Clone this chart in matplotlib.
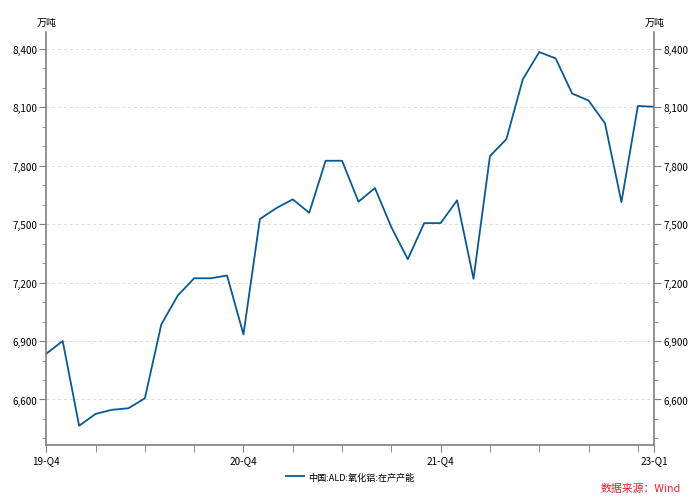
import matplotlib
matplotlib.use('Agg')
import matplotlib.pyplot as plt
from matplotlib.ticker import FixedLocator, MultipleLocator, FuncFormatter

plt.rcParams['font.family'] = ['Noto Sans CJK SC', 'DejaVu Sans']

# 中国:ALD:氧化铝:在产产能 (万吨), 月度, 2019-10 起
values = [6835, 6900, 6465, 6526, 6547, 6555, 6606, 6985, 7133, 7222,
          7222, 7236, 6934, 7526, 7582, 7627, 7558, 7825, 7825, 7615,
          7685, 7484, 7320, 7505, 7505, 7622, 7219, 7849, 7936, 8243,
          8383, 8350, 8170, 8134, 8017, 7613, 8106, 8102]
tick_pos = [0, 12, 24, 37]
tick_labels = ['19-Q4', '20-Q4', '21-Q4', '23-Q1']
minor_pos = [3, 6, 9, 15, 18, 21, 27, 30, 33, 36]
series_name = '中国:ALD:氧化铝:在产产能'

x = list(range(len(values)))

fig = plt.figure(figsize=(7, 5.02), dpi=100)
ax = fig.add_axes([0.0661, 0.111, 0.8686, 0.823])
line, = ax.plot(x, values, color='#0b5a92', lw=1.3, label=series_name)

ax.set_xlim(0, len(values) - 1)
ax.set_ylim(6365, 8485)

axis_col = '#7f7f7f'
ax.spines['top'].set_visible(False)
for s in ['left', 'right', 'bottom']:
    ax.spines[s].set_color(axis_col)
    ax.spines[s].set_linewidth(1.2)

ax.yaxis.set_major_locator(MultipleLocator(300))
ax.yaxis.set_minor_locator(MultipleLocator(100))
ax.yaxis.set_major_formatter(FuncFormatter(lambda v, p: f'{int(v):,}'))
ax.xaxis.set_major_locator(FixedLocator(tick_pos))
ax.xaxis.set_minor_locator(FixedLocator(minor_pos))
ax.set_xticklabels(tick_labels)

ax.tick_params(axis='y', which='both', left=True, right=True, labelleft=True,
               labelright=True, direction='out', color=axis_col, labelsize=7.2,
               pad=1.5)
ax.tick_params(axis='y', which='major', length=5)
ax.tick_params(axis='y', which='minor', length=3)
ax.tick_params(axis='x', which='both', direction='out', color=axis_col,
               length=5, labelsize=7.2, pad=2)

ax.grid(axis='y', which='major', linestyle=(0, (3, 3)), color='#dcdcdc', lw=0.7)
ax.set_axisbelow(True)

fig.text(37 / 700, 1 - 23 / 502, '万吨', fontsize=7.2, ha='left', va='center')
fig.text(645 / 700, 1 - 23 / 502, '万吨', fontsize=7.2, ha='left', va='center')

fig.legend(handles=[line], loc='center', bbox_to_anchor=(350 / 700, 1 - 478 / 502),
           frameon=False, fontsize=6.6, handlelength=2.0, handletextpad=0.4)

fig.text(681 / 700, 1 - 489 / 502, '数据来源：Wind', fontsize=7.8, color='#e0202a',
         ha='right', va='center')

fig.savefig('out.png', dpi=100)
